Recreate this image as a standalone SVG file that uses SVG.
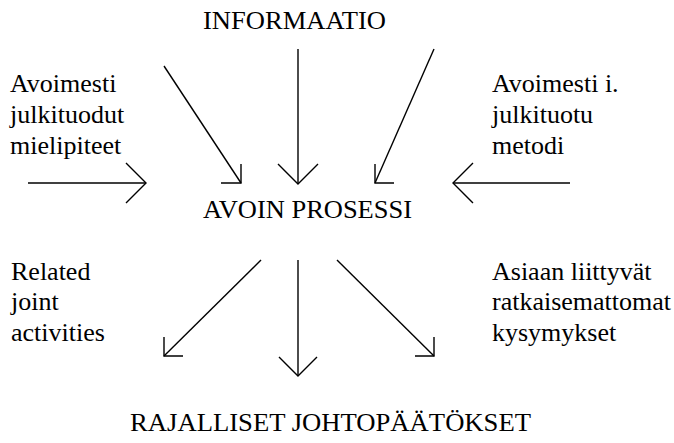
<svg xmlns="http://www.w3.org/2000/svg" width="674" height="443" viewBox="0 0 674 443">
<style>
text{font-family:'Liberation Serif','Times New Roman',serif;font-size:26px;fill:#000}
.c line,.c path{stroke:#000;stroke-width:1.4;fill:none}
</style>
<rect width="674" height="443" fill="#fff"/>
<g id="informaatio"><text x="203" y="28.5" textLength="183" lengthAdjust="spacingAndGlyphs">INFORMAATIO</text></g>
<g id="mielipiteet"><text x="10" y="92">Avoimesti</text><text x="10" y="123">julkituodut</text><text x="10" y="153.5">mielipiteet</text></g>
<g id="metodi"><text x="492" y="92">Avoimesti i.</text><text x="492" y="123">julkituotu</text><text x="492" y="153.5">metodi</text></g>
<g id="avoin-prosessi"><text x="203" y="217.5" textLength="209" lengthAdjust="spacingAndGlyphs">AVOIN PROSESSI</text></g>
<g id="related"><text x="11" y="279.5">Related</text><text x="11" y="310">joint</text><text x="11" y="341">activities</text></g>
<g id="kysymykset"><text x="492" y="279.5">Asiaan liittyvät</text><text x="492" y="310">ratkaisemattomat</text><text x="492" y="341">kysymykset</text></g>
<g id="johtopaatokset"><text x="130" y="431" textLength="401" lengthAdjust="spacingAndGlyphs">RAJALLISET JOHTOPÄÄTÖKSET</text></g>
<g class="c" id="connectors">
<line x1="28" y1="183" x2="146" y2="183"/><path d="M126,163 L146,183 L126,203"/>
<line x1="164" y1="66" x2="241" y2="183"/><path d="M241,164 L241,183 L221,183"/>
<line x1="298" y1="49" x2="298" y2="184"/><path d="M278,164 L298,184 L318,164"/>
<line x1="434" y1="49" x2="375" y2="183"/><path d="M375,164 L375,183 L394,183"/>
<line x1="570" y1="183" x2="453" y2="183"/><path d="M473,163 L453,183 L473,203"/>
<line x1="261" y1="260" x2="164" y2="356"/><path d="M164,337 L164,356 L183,356"/>
<line x1="298" y1="260" x2="298" y2="376"/><path d="M279,357 L298,376 L317,357"/>
<line x1="337" y1="260" x2="434" y2="356"/><path d="M434,337 L434,356 L415,356"/>
</g>
</svg>
